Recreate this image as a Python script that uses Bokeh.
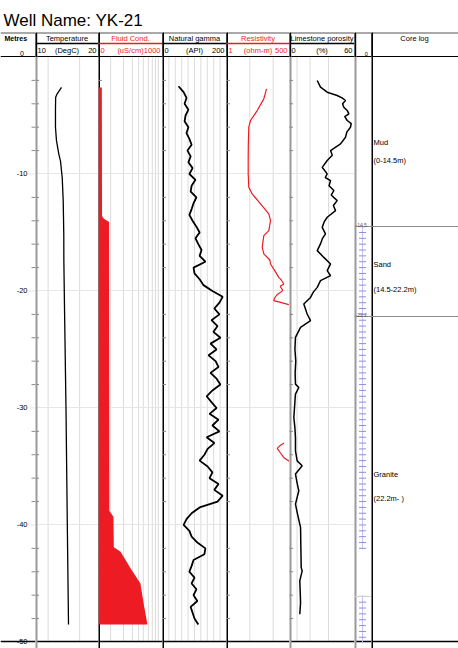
import math
from bokeh.plotting import figure
from bokeh.layouts import column, row
from bokeh.models import Range1d
from bokeh.core.properties import value
from bokeh.embed import file_html
from bokeh.resources import INLINE

FONT = "Liberation Sans"
RED = "#ED1C24"

# ---------------- data ----------------
title_text = "Well Name: YK-21"
depth_labels = ["-10", "-20", "-30", "-40"]
depth_label_pos = [-10, -20, -30, -40]

track_titles = ["Temperature", "Fluid Cond.", "Natural gamma", "Resistivity", "Limestone porosity"]
track_units = ["(DegC)", "(uS/cm)", "(API)", "(ohm-m)", "(%)"]
track_lo = [10, 0, 0, 1, 0]
track_hi = [20, 1000, 200, 500, 60]
track_lo_lab = ["10", "0", "0", "1", "0"]
track_hi_lab = ["20", "1000", "200", "500", "60"]
track_color = ["black", RED, "black", RED, "black"]
track_log = [False, False, False, True, False]
track_grid = [[12, 17],
              [190, 390, 530, 625, 700, 780, 840, 890, 935],
              [20, 40, 60, 80, 100, 120, 140, 160, 180],
              [10, 100],
              [7, 19, 36]]

temp_depth = [-2.6, -3.15, -3.45, -4.5, -6.0, -7.15, -8.3, -8.9, -10.3, -12.3, -15.2, -17.4, -22.0, -30.0, -40.0, -48.5]
temp_degc = [14.13, 13.44, 13.2, 13.17, 13.17, 13.33, 13.7, 13.97, 14.24, 14.40, 14.49, 14.5, 14.62, 14.84, 15.05, 15.24]

fluid_depth = [-2.6, -13.6, -13.8, -14.1, -38.8, -39.3, -41.9, -42.3, -43.7, -45.0, -46.7, -48.5]
fluid_cond = [52, 55, 80, 165, 170, 234, 240, 345, 500, 655, 705, 765]

gamma_depth = [-2.5, -3.0, -3.5, -4.0, -4.5, -5.0, -5.5, -6.0, -6.5, -7.0, -7.5, -8.0, -8.5, -9.0,
               -9.5, -10.0, -10.5, -11.0, -11.5, -12.0, -12.5, -13.0, -13.5, -14.0, -14.5, -15.0,
               -15.5, -16.0, -16.5, -17.0, -17.5, -18.0, -18.5, -19.0, -19.5, -20.0, -20.5, -21.0,
               -21.5, -22.0, -22.5, -23.0, -23.5, -24.0, -24.5, -25.0, -25.5, -26.0, -26.5, -27.0,
               -27.5, -28.0, -28.5, -29.0, -29.5, -30.0, -30.5, -31.0, -31.5, -32.0, -32.5, -33.0,
               -33.5, -34.0, -34.5, -35.0, -35.5, -36.0, -36.5, -37.0, -37.5, -38.0, -38.5, -39.0,
               -39.5, -40.0, -40.5, -41.0, -41.5, -42.0, -42.5, -43.0, -43.5, -44.0, -44.5, -45.0,
               -45.5, -46.0, -46.5, -47.0, -47.5, -48.0, -48.5]
gamma_api = [50, 66, 75, 69, 81, 72, 69, 81, 75, 84, 91, 78, 88, 81,
             94, 84, 103, 91, 88, 106, 97, 91, 84, 94, 106, 116,
             103, 112, 122, 116, 134, 97, 100, 116, 128, 156, 188, 178,
             162, 178, 153, 172, 159, 181, 150, 169, 144, 166, 175, 150,
             169, 181, 156, 138, 153, 169, 147, 175, 156, 178, 138, 162,
             141, 131, 116, 141, 156, 147, 175, 162, 188, 172, 116, 91,
             75, 66, 84, 91, 109, 134, 131, 97, 91, 84, 100, 91,
             106, 97, 109, 88, 94, 100, 112]

res_depth_upper = [-2.72, -3.58, -4.58, -5.43, -6.0, -7.5, -8.85, -10.0, -11.14, -11.7, -12.56, -13.41,
                   -13.99, -14.84, -15.27, -16.27, -16.83, -17.35, -17.69, -18.3, -18.84, -19.1, -19.4,
                   -19.6, -19.97, -20.3, -20.6, -20.83, -20.98, -21.17]
res_ohmm_upper = [51.8, 39.7, 20.7, 10.7, 9.0, 8.6, 8.5, 8.5, 9.0, 12.6, 28.7, 65,
                  76.9, 65, 39.7, 33.9, 39.7, 71.8, 76.9, 120, 174.6, 230, 286,
                  200, 260, 150, 115, 106, 206, 468]
res_depth_lower = [-33.0, -33.2, -33.45, -33.85, -34.25, -34.55]
res_ohmm_lower = [286, 200, 149, 206, 286, 490]

poro_depth = [-2.01, -2.58, -3.01, -3.29, -3.5, -3.72, -4.0, -4.29, -4.6, -4.86, -5.1, -5.43, -5.7, -6.0,
              -6.4, -6.86, -7.43, -8.0, -8.4, -8.85, -9.43, -9.99, -10.3, -10.56, -11.0, -11.42, -11.8,
              -12.28, -12.7, -13.13, -13.70, -14.1, -14.56, -15.12, -15.5, -15.98, -16.55, -17.13,
              -17.69, -18.26, -18.69, -19.12, -19.69, -20.1, -20.55, -21.11, -21.97, -22.54, -23.11,
              -23.97, -25.0, -26.0, -27.0, -27.96, -28.25, -28.81, -30.0, -30.81, -31.7, -32.52,
              -33.66, -34.52, -34.94, -35.65, -36.4, -37.08, -38.22, -38.94, -40.22, -42.0, -43.64,
              -43.93, -44.78, -46.0, -46.64, -47.63]
poro_pct = [25.6, 28.6, 34.8, 44.0, 48.5, 51.7, 49.0, 50.1, 53.5, 54.8, 51.0, 53.3, 57.0, 56.3,
            53.0, 51.7, 47.1, 37.9, 39.5, 34.8, 30.2, 34.8, 33.0, 37.9, 36.5, 40.9, 38.5,
            44.0, 40.5, 42.5, 34.8, 32.0, 30.2, 33.2, 30.5, 28.6, 25.6, 31.7,
            37.9, 34.8, 37.9, 28.6, 25.6, 22.0, 19.4, 13.2, 16.3, 19.4, 10.2,
            5.5, 5.0, 5.8, 5.2, 5.5, 8.6, 5.5, 4.6, 4.0, 5.0, 5.5,
            5.5, 7.1, 11.7, 5.5, 7.0, 8.6, 5.5, 7.1, 10.2, 10.5, 10.8,
            11.7, 9.5, 10.0, 10.2, 9.5]

core_names = ["Mud", "Sand", "Granite"]
core_ranges = ["(0-14.5m)", "(14.5-22.2m)", "(22.2m-  )"]
core_boundaries = [-14.5, -22.2]
core_boundary_labels = ["-14.5", "-22.2"]
core_name_depth = [-7.33, -17.7, -35.7]
core_range_depth = [-8.87, -19.9, -37.7]
ruler_segments = [(-14.5, -42.0), (-46.1, -50.0)]

# ---------------- layout ----------------
H_TITLE = 32
H = 616
Y_TOP = 2.094
Y_BOT = -50.56
Y_NAME, Y_MID, Y_UNIT = 1.581, 1.154, 0.556
W_DEPTH = 35
TRACK_W = [63, 64, 64, 63, 65]
W_RULER = 17
W_CORE = 87
TRACK_BORDER = [("#9a9a9a", 4), ("black", 3), ("black", 3), ("black", 3), ("#9a9a9a", 4)]
GRID_C = "#dcdcdc"
HGRID_C = "#e6e6e6"
TICK_C = "#8a8a8a"
minor_ticks = [-d for d in range(2, 50, 2) if d % 10 != 0]


def base_fig(w, xr, log=False):
    p = figure(width=w, height=H, x_range=xr, y_range=Range1d(Y_BOT, Y_TOP),
               x_axis_type="log" if log else "linear",
               x_axis_location=None, y_axis_location=None,
               output_backend="svg", toolbar_location=None, min_border=0)
    p.xgrid.visible = False
    p.ygrid.visible = False
    p.outline_line_color = None
    p.background_fill_color = "white"
    p.border_fill_color = "white"
    return p


def txt(p, x, y, s, size="7.5px", color="black", align="center", baseline="middle",
        x_off=0, style="normal"):
    p.text(x=[x], y=[y], text=[s], text_font=value(FONT), text_font_size=value(size),
           text_color=color, text_align=align, text_baseline=baseline,
           x_offset=x_off, text_font_style=style)


def common_lines(p, x0, left_color, left_w):
    p.hspan(y=[Y_TOP], line_color="#555555", line_width=2)
    p.hspan(y=[0], line_color="black", line_width=1)
    p.hspan(y=[-50], line_color="black", line_width=1.5)
    p.vspan(x=[x0], line_color=left_color, line_width=left_w)
    p.segment(x0=[x0], y0=[0], x1=[x0], y1=[Y_TOP], line_color="black", line_width=3)


# title
pt = figure(width=458, height=H_TITLE, x_range=Range1d(0, 458), y_range=Range1d(0, H_TITLE),
            x_axis_location=None, y_axis_location=None, output_backend="svg",
            toolbar_location=None, min_border=0)
pt.xgrid.visible = False
pt.ygrid.visible = False
pt.outline_line_color = None
txt(pt, 3, 12, title_text, size="17px", align="left", baseline="alphabetic")

# depth column
pd_ = base_fig(W_DEPTH, Range1d(0, W_DEPTH))
pd_.hspan(y=[Y_TOP], line_color="#555555", line_width=2)
pd_.hspan(y=[0], line_color="black", line_width=1)
pd_.hspan(y=[-50], line_color="black", line_width=1.5)
pd_.segment(x0=[28] * 4, y0=depth_label_pos, x1=[35] * 4, y1=depth_label_pos, line_color=HGRID_C)
pd_.scatter(x=[35] * len(minor_ticks), y=minor_ticks, marker="dash", size=8, line_color=TICK_C)
txt(pd_, 4, Y_NAME, "Metres", size="7px", align="left", style="bold")
txt(pd_, 23.5, 0.12, "0", size="7px", align="right", baseline="bottom")
pd_.text(x=[27] * 4, y=depth_label_pos, text=depth_labels, text_font=value(FONT),
         text_font_size=value("7.5px"), text_align="right", text_baseline="middle")
txt(pd_, 27, -50, "-50", size="7.5px", align="right", baseline="middle")

figs = [pd_]
for i in range(5):
    lo, hi = track_lo[i], track_hi[i]
    log = track_log[i]
    p = base_fig(TRACK_W[i], Range1d(lo, hi), log=log)
    mid = math.sqrt(lo * hi) if log else (lo + hi) / 2
    n = len(track_grid[i])
    p.segment(x0=track_grid[i], y0=[-50] * n, x1=track_grid[i], y1=[0] * n,
              line_color=GRID_C, line_width=1)
    p.hspan(y=depth_label_pos, line_color=HGRID_C, line_width=1)
    bc, bw = TRACK_BORDER[i]
    common_lines(p, lo, bc, bw)
    p.scatter(x=[lo] * len(minor_ticks), y=minor_ticks, marker="dash", size=7, line_color=TICK_C)
    p.segment(x0=[lo], y0=[Y_MID], x1=[hi], y1=[Y_MID], line_color=track_color[i], line_width=1.5)
    txt(p, mid, Y_NAME, track_titles[i], color=track_color[i])
    txt(p, lo, Y_UNIT, track_lo_lab[i], color=track_color[i], align="left", x_off=2)
    txt(p, mid, Y_UNIT, track_units[i], color=track_color[i])
    txt(p, hi, Y_UNIT, track_hi_lab[i], color=track_color[i], align="right", x_off=-2)
    figs.append(p)

p_temp, p_fluid, p_gamma, p_res, p_poro = figs[1:]
p_temp.line(temp_degc, temp_depth, line_color="black", line_width=1.3)
p_fluid.harea(x1=[0] * len(fluid_cond), x2=fluid_cond, y=fluid_depth, fill_color=RED)
p_gamma.line(gamma_api, gamma_depth, line_color="black", line_width=1.8)
p_res.line(res_ohmm_upper, res_depth_upper, line_color=RED, line_width=1.2)
p_res.line(res_ohmm_lower, res_depth_lower, line_color=RED, line_width=1.2)
p_poro.line(poro_pct, poro_depth, line_color="black", line_width=1.5)

# ruler column
pr = base_fig(W_RULER, Range1d(0, W_RULER))
common_lines(pr, 0, "#9a9a9a", 4)
for top, bot in ruler_segments:
    pr.segment(x0=[8], y0=[top], x1=[8], y1=[bot], line_color="#c4c4f0", line_width=1)
    ticks = []
    d = top
    while d >= bot:
        ticks.append(d)
        d -= 0.5
    pr.scatter(x=[8] * len(ticks), y=ticks, marker="dash", size=7, line_color="#8c8ce6")
pr.hspan(y=[-46.1], line_color="#d0d0d0", line_width=1)
pr.hspan(y=core_boundaries, line_color="#8c8c8c", line_width=1)
pr.text(x=[1, 1], y=core_boundaries, text=core_boundary_labels, text_font=value(FONT),
        text_font_size=value("5px"), text_color="#555555", text_align="left", text_baseline="bottom")
txt(pr, 11.7, 0.1, "0", size="5.5px", baseline="bottom")

# core log column
pc = base_fig(W_CORE, Range1d(0, W_CORE))
common_lines(pc, 0, "black", 3)
pc.hspan(y=core_boundaries, line_color="#8c8c8c", line_width=1)
txt(pc, 43, Y_NAME, "Core log")
pc.text(x=[2] * 3, y=core_name_depth, text=core_names, text_font=value(FONT),
        text_font_size=value("7.5px"), text_align="left", text_baseline="middle")
pc.text(x=[2] * 3, y=core_range_depth, text=core_ranges, text_font=value(FONT),
        text_font_size=value("7.5px"), text_align="left", text_baseline="middle")

figs += [pr, pc]
layout = column(pt, row(*figs, spacing=0), spacing=0)
open("out.html", "w").write(file_html(layout, INLINE))
